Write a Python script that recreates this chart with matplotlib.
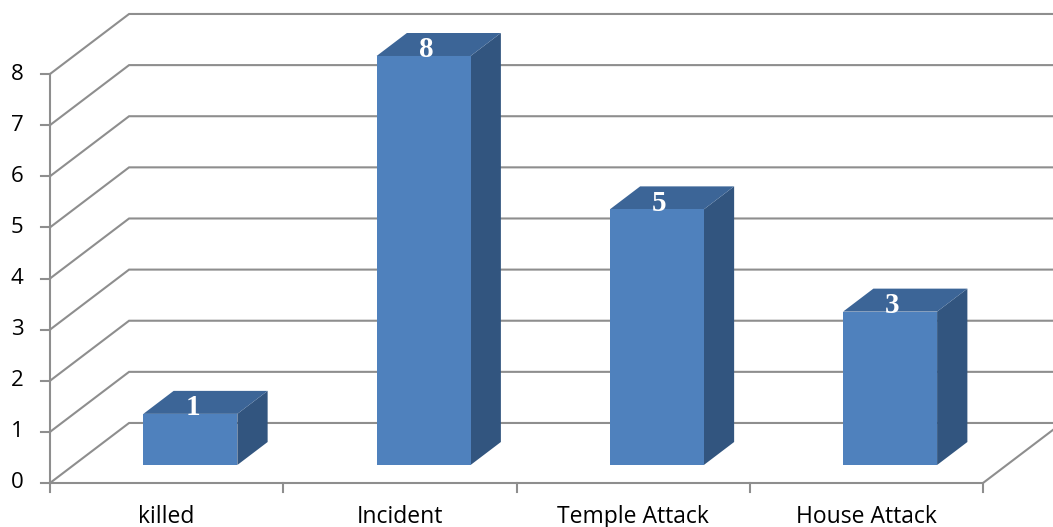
import matplotlib.pyplot as plt
from matplotlib.patches import Polygon

plt.rcParams['font.family'] = ['Open Sans', 'DejaVu Sans']

categories = ['killed', 'Incident', 'Temple Attack', 'House Attack']
values = [1, 8, 5, 3]
yticks = list(range(0, 9))

# pseudo-3d layout, in category / value units
depth_dx = 0.339       # back wall shift in categories
depth_dy = 1.174       # back wall shift in value units
bar_w = 0.403
bar_z0, bar_z1 = 0.30, 0.683
n = len(categories)

front_c = '#4F81BD'
top_c = '#3C6597'
side_c = '#32557F'
grid_c = '#8E8E8E'


def proj(x, v, z):
    return (x + depth_dx * z, v + depth_dy * z)


fig = plt.figure(figsize=(10.53, 5.27), dpi=100)
ax = fig.add_axes([0, 0, 1, 1])
ax.set_xlim(-50 / 233.25, 1003 / 233.25)
ax.set_ylim(-44 / 51.125, 483 / 51.125)
ax.axis('off')

right = 1003 / 233.25 + 0.1

# back wall gridlines with the diagonal on the side wall
for v in yticks:
    x0, y0 = proj(0, v, 0)
    x1, y1 = proj(0, v, 1)
    ax.plot([x0, x1, right], [y0, y1, y1], color=grid_c, lw=1.5,
            solid_joinstyle='miter', zorder=1)

# floor edges
fx, fy = proj(n, 0, 1)
ax.plot([0, n, fx], [0, 0, fy], color=grid_c, lw=1.5, zorder=1)

# value axis with ticks
ax.plot([0, 0], [0, yticks[-1]], color=grid_c, lw=1.5, zorder=2)
for v in yticks:
    ax.plot([-0.04, 0], [v, v], color=grid_c, lw=1.5, zorder=2)
    ax.text(-0.14, v, str(v), ha='center', va='center', fontsize=16, color='black')

# category ticks and labels
for i in range(n + 1):
    ax.plot([i, i], [0, -0.17], color=grid_c, lw=1.5, zorder=2)
for i, name in enumerate(categories):
    ax.text(i + 0.5, -0.66, name, ha='center', va='center', fontsize=16.5, color='black')

# bars: side, top, front
for i, v in enumerate(values):
    xl = i + 0.5 - bar_w / 2
    xr = i + 0.5 + bar_w / 2
    side = [proj(xr, 0, bar_z0), proj(xr, 0, bar_z1), proj(xr, v, bar_z1), proj(xr, v, bar_z0)]
    top = [proj(xl, v, bar_z0), proj(xr, v, bar_z0), proj(xr, v, bar_z1), proj(xl, v, bar_z1)]
    front = [proj(xl, 0, bar_z0), proj(xr, 0, bar_z0), proj(xr, v, bar_z0), proj(xl, v, bar_z0)]
    ax.add_patch(Polygon(side, closed=True, facecolor=side_c, edgecolor='none', zorder=3))
    ax.add_patch(Polygon(top, closed=True, facecolor=top_c, edgecolor='none', zorder=3))
    ax.add_patch(Polygon(front, closed=True, facecolor=front_c, edgecolor='none', zorder=3))
    lx, ly = proj(i + 0.5, v, bar_z0)
    ax.text(lx + 0.01, ly + 0.12, str(v), ha='center', va='center', fontsize=21,
            fontweight='bold', color='white', family='Liberation Serif', zorder=4)

fig.savefig('out.png', dpi=100)
